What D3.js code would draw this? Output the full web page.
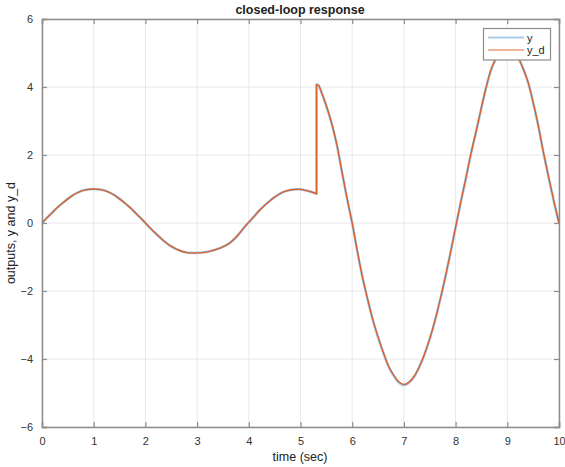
<!DOCTYPE html>
<html>
<head>
<meta charset="utf-8">
<script src="https://cdn.jsdelivr.net/npm/d3@7"></script>
<style>
  html, body { margin: 0; padding: 0; background: #fff; }
  svg { display: block; font-family: "Liberation Sans", Arial, sans-serif; }
</style>
</head>
<body>
<svg id="chart" width="565" height="467"></svg>
<script>
// Sample times (s) of the closed-loop simulation; 5.31 appears twice for the step in y_d
const time = [
  0.0, 0.1, 0.2, 0.3, 0.4, 0.5, 0.6, 0.7, 0.8, 0.9,
  1.0, 1.1, 1.2, 1.3, 1.4, 1.5, 1.6, 1.7, 1.8, 1.9,
  2.0, 2.1, 2.2, 2.3, 2.4, 2.5, 2.6, 2.7, 2.8, 2.9,
  3.0, 3.1, 3.2, 3.3, 3.4, 3.5, 3.6, 3.7, 3.8, 3.9,
  4.0, 4.1, 4.2, 4.3, 4.4, 4.5, 4.6, 4.7, 4.8, 4.9,
  5.0, 5.1, 5.2, 5.31, 5.31, 5.35, 5.4, 5.5, 5.6, 5.7, 5.8, 5.9,
  6.0, 6.1, 6.2, 6.3, 6.4, 6.5, 6.6, 6.7, 6.8, 6.9,
  7.0, 7.1, 7.2, 7.3, 7.4, 7.5, 7.6, 7.7, 7.8, 7.9,
  8.0, 8.1, 8.2, 8.3, 8.4, 8.5, 8.6, 8.7, 8.8, 8.9,
  9.0, 9.1, 9.2, 9.3, 9.4, 9.5, 9.6, 9.7, 9.8, 9.9,
  10.0
];

// Desired output y_d
const yDesired = [
  0.00, 0.16, 0.31, 0.46, 0.59, 0.71, 0.82, 0.90, 0.96, 0.99,
  1.00, 0.99, 0.96, 0.90, 0.82, 0.71, 0.59, 0.46, 0.31, 0.16,
  0.00, -0.16, -0.31, -0.45, -0.58, -0.69, -0.77, -0.83, -0.87, -0.88,
  -0.88, -0.87, -0.85, -0.81, -0.76, -0.70, -0.62, -0.50, -0.34, -0.15,
  0.02, 0.19, 0.36, 0.51, 0.64, 0.76, 0.86, 0.93, 0.97, 0.99,
  0.99, 0.96, 0.92, 0.86, 4.07, 4.05, 3.87, 3.45, 2.95, 2.33, 1.52, 0.73,
  0.00, -0.83, -1.60, -2.25, -2.85, -3.35, -3.80, -4.20, -4.47, -4.67,
  -4.75, -4.68, -4.50, -4.22, -3.85, -3.40, -2.87, -2.26, -1.60, -0.88,
  -0.12, 0.62, 1.33, 2.06, 2.72, 3.40, 4.05, 4.57, 4.88, 5.00,
  5.02, 5.00, 4.88, 4.57, 4.15, 3.55, 2.86, 2.07, 1.35, 0.65,
  0.00
];

// Measured output y (tracks y_d closely)
const yOutput = [
  0.00, 0.16, 0.31, 0.46, 0.59, 0.71, 0.82, 0.90, 0.96, 0.99,
  1.00, 0.99, 0.96, 0.90, 0.82, 0.71, 0.59, 0.46, 0.31, 0.16,
  0.00, -0.16, -0.31, -0.45, -0.58, -0.69, -0.77, -0.83, -0.87, -0.88,
  -0.88, -0.87, -0.85, -0.81, -0.76, -0.70, -0.62, -0.50, -0.34, -0.15,
  0.02, 0.19, 0.36, 0.51, 0.64, 0.76, 0.86, 0.93, 0.97, 0.99,
  0.99, 0.96, 0.92, 0.86, 4.07, 4.04, 3.86, 3.44, 2.94, 2.32, 1.51, 0.72,
  -0.01, -0.84, -1.61, -2.26, -2.86, -3.36, -3.81, -4.21, -4.49, -4.69,
  -4.77, -4.70, -4.52, -4.23, -3.86, -3.41, -2.88, -2.27, -1.61, -0.89,
  -0.13, 0.61, 1.32, 2.05, 2.71, 3.39, 4.04, 4.56, 4.87, 4.99,
  5.01, 4.99, 4.87, 4.56, 4.14, 3.54, 2.85, 2.06, 1.34, 0.64,
  0.00
];

const xTicks = [0, 1, 2, 3, 4, 5, 6, 7, 8, 9, 10];
const yTicks = [-6, -4, -2, 0, 2, 4, 6];
const seriesNames = ["y", "y_d"];
const seriesColors = ["#a9cde8", "#d95f2a"];
const legendColors = ["#a9cde8", "#ee9a78"];

const svg = d3.select("#chart");

const x = d3.scaleLinear().domain([0, 10]).range([42, 559]);
const y = d3.scaleLinear().domain([-6, 6]).range([427, 19]);

// grid
const grid = svg.append("g");
grid.selectAll("line.gx").data(xTicks).join("line")
  .attr("x1", d => x(d)).attr("x2", d => x(d))
  .attr("y1", y(-6)).attr("y2", y(6))
  .attr("stroke", "#e8e8e8").attr("stroke-width", 1);
grid.selectAll("line.gy").data(yTicks).join("line")
  .attr("y1", d => y(d)).attr("y2", d => y(d))
  .attr("x1", x(0)).attr("x2", x(10))
  .attr("stroke", "#e8e8e8").attr("stroke-width", 1);

// curves: smooth pieces on either side of the step, joined by a vertical segment
const jump = time.indexOf(5.31);
function pathFor(vals) {
  const pts = time.map((t, i) => [x(t), y(vals[i])]);
  const smooth = d3.line().curve(d3.curveCatmullRom.alpha(0.5));
  const a = pts.slice(0, jump + 1);
  const b = pts.slice(jump + 1);
  return smooth(a) + "L" + b[0][0] + "," + b[0][1] + smooth(b).replace(/^M/, "L");
}
svg.append("path")
  .attr("fill", "none").attr("stroke", seriesColors[0])
  .attr("stroke-width", 2.6).attr("stroke-linejoin", "round")
  .attr("d", pathFor(yOutput));
svg.append("path")
  .attr("fill", "none").attr("stroke", seriesColors[1])
  .attr("stroke-width", 1.4).attr("stroke-linejoin", "round")
  .attr("d", pathFor(yDesired));

// axes (box with inward ticks)
const axisColor = "#8c8c8c";
const tickLen = 5;

const xb = d3.axisBottom(x).tickValues(xTicks).tickSize(-tickLen).tickPadding(10);
const xt = d3.axisTop(x).tickValues(xTicks).tickSize(-tickLen).tickFormat("");
const yl = d3.axisLeft(y).tickValues(yTicks).tickSize(-tickLen).tickPadding(9);
const yr = d3.axisRight(y).tickValues(yTicks).tickSize(-tickLen).tickFormat("");

function style(g) {
  g.select(".domain").attr("stroke", axisColor).attr("stroke-width", 1.5);
  g.selectAll(".tick line").attr("stroke", axisColor).attr("stroke-width", 1.2);
  g.selectAll(".tick text").attr("fill", "#333").attr("font-size", 11)
    .attr("font-family", "'Liberation Sans', Arial, sans-serif");
}
svg.append("g").attr("transform", `translate(0,${y(-6)})`).call(xb).call(style);
svg.append("g").attr("transform", `translate(0,${y(6)})`).call(xt).call(style);
svg.append("g").attr("transform", `translate(${x(0)},0)`).call(yl).call(style);
svg.append("g").attr("transform", `translate(${x(10)},0)`).call(yr).call(style);

// labels
svg.append("text").attr("x", 300).attr("y", 14)
  .attr("text-anchor", "middle").attr("font-size", 12.5).attr("font-weight", "bold")
  .attr("fill", "#222").text("closed-loop response");
svg.append("text").attr("x", 300).attr("y", 461)
  .attr("text-anchor", "middle").attr("font-size", 12.5)
  .attr("fill", "#222").text("time (sec)");
svg.append("text").attr("transform", `translate(15,233) rotate(-90)`)
  .attr("text-anchor", "middle").attr("font-size", 12.5)
  .attr("fill", "#222").text("outputs, y and y_d");

// legend
const lg = svg.append("g");
lg.append("rect").attr("x", 483.5).attr("y", 28.5).attr("width", 67).attr("height", 31.5)
  .attr("fill", "#fff").attr("stroke", "#8c8c8c").attr("stroke-width", 1.2);
seriesNames.forEach((name, i) => {
  const ly = 37.5 + i * 12.5;
  lg.append("line").attr("x1", 488).attr("x2", 524).attr("y1", ly).attr("y2", ly)
    .attr("stroke", legendColors[i]).attr("stroke-width", i === 0 ? 1.8 : 1.3);
  lg.append("text").attr("x", 527).attr("y", ly + 4).attr("font-size", 11)
    .attr("fill", "#222").text(name);
});
</script>
</body>
</html>
